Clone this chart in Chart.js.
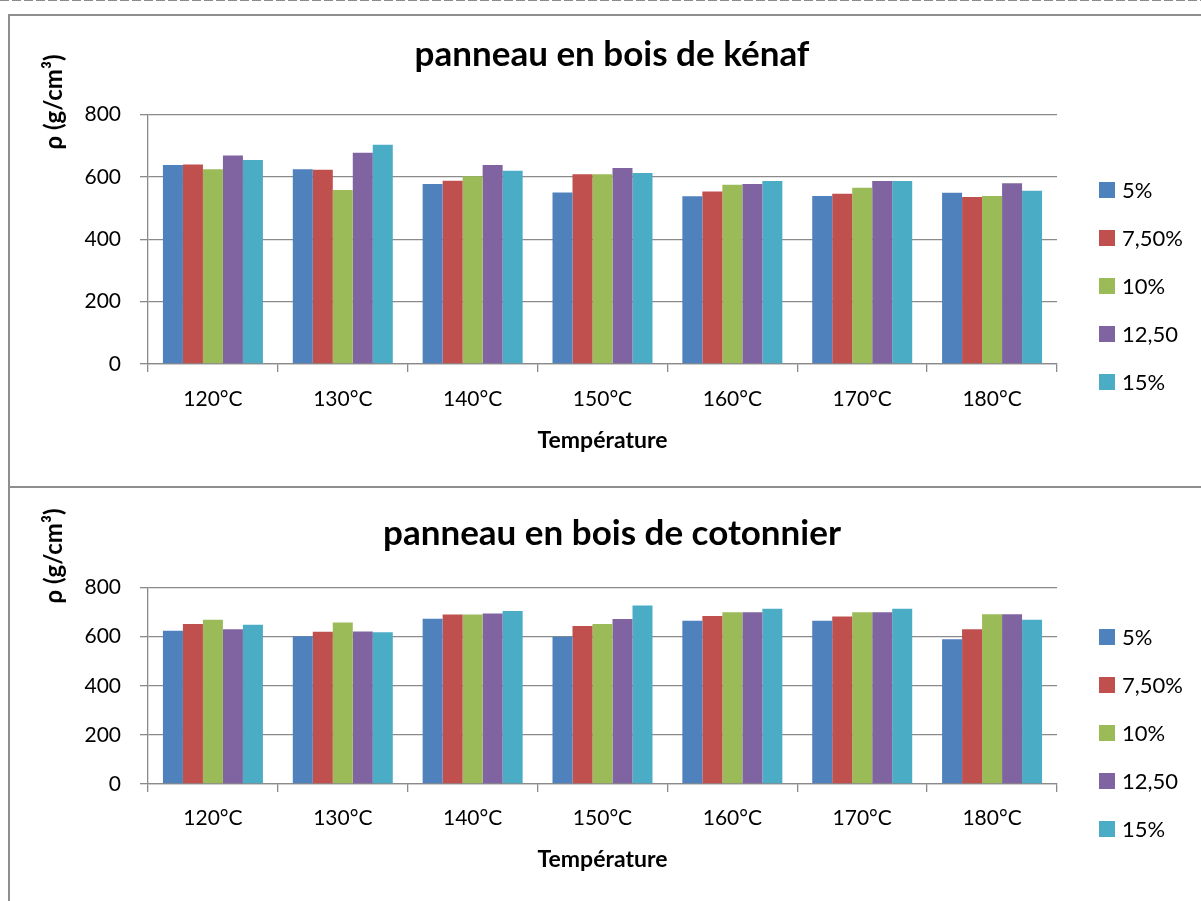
<!DOCTYPE html>
<html lang="fr">
<head>
<meta charset="utf-8">
<title>Masse volumique des panneaux</title>
<script src="https://cdn.jsdelivr.net/npm/chart.js@4.4.1/dist/chart.umd.min.js"></script>
<style>
  html, body { margin: 0; padding: 0; background: #fff; overflow: hidden; }
  body { width: 1201px; height: 901px; position: relative; }
  .dash { position: absolute; left: 0; top: 0; width: 1201px; height: 1px;
          background: repeating-linear-gradient(to right, #8c8c8c 0 9px, transparent 9px 12px); }
  .frame { position: absolute; left: 8px; top: 14px; width: 1220px; height: 920px;
           border: 2px solid #8e8e8e; box-sizing: border-box; }
  .sep { position: absolute; left: 8px; top: 486px; width: 1220px; height: 2px; background: #8e8e8e; }
  .panel { position: absolute; left: 10px; width: 1204px; }
  #panel-kenaf { top: 16px; height: 470px; }
  #panel-coton { top: 488px; height: 413px; }
</style>
</head>
<body>
<div class="dash"></div>
<div class="frame"></div>
<div class="sep"></div>
<div class="panel" id="panel-kenaf"><canvas id="chart-kenaf"></canvas></div>
<div class="panel" id="panel-coton"><canvas id="chart-coton"></canvas></div>
<script>
// --- data ---
const temperatures = ['120°C', '130°C', '140°C', '150°C', '160°C', '170°C', '180°C'];
const seriesLabels = ['5%', '7,50%', '10%', '12,50', '15%'];
const seriesColors = ['#4F81BD', '#C0504D', '#9BBB59', '#8064A2', '#4BACC6'];
const yTicks = [0, 200, 400, 600, 800];

// kénaf, density per temperature
const kenaf5   = [638, 625, 577, 550, 538, 539, 549];
const kenaf75  = [640, 623, 588, 609, 553, 546, 536];
const kenaf10  = [625, 558, 602, 609, 575, 565, 539];
const kenaf125 = [669, 678, 638, 629, 577, 587, 580];
const kenaf15  = [654, 703, 620, 613, 587, 587, 556];

// cotonnier, density per temperature
const coton5   = [624, 602, 673, 600, 665, 665, 590];
const coton75  = [652, 620, 690, 644, 684, 682, 630];
const coton10  = [669, 658, 690, 652, 700, 700, 691];
const coton125 = [630, 621, 694, 672, 700, 700, 691];
const coton15  = [649, 618, 705, 727, 714, 714, 669];

const AXIS = '#8a8a8a';
const FONT = 'Lato';

// rotated y title + legend column on the right
const panelLabels = {
    id: 'panelLabels',
    afterDraw(chart, args, opts) {
        const ctx = chart.ctx;
        ctx.save();
        ctx.fillStyle = '#000';
        ctx.font = `bold 24px ${FONT}`;
        ctx.textAlign = 'center';
        ctx.textBaseline = 'middle';
        ctx.translate(opts.axisX, opts.axisY);
        ctx.rotate(-Math.PI / 2);
        ctx.fillText(opts.axisText, 0, 0);
        ctx.restore();

        ctx.save();
        ctx.font = `22px ${FONT}`;
        ctx.textAlign = 'left';
        ctx.textBaseline = 'middle';
        chart.data.datasets.forEach((ds, i) => {
            const cy = opts.legendY + i * opts.legendStep;
            ctx.fillStyle = ds.backgroundColor;
            ctx.fillRect(opts.legendX, cy - 8, 16, 16);
            ctx.fillStyle = '#000';
            ctx.fillText(ds.label, opts.legendX + 23, cy + 1);
        });
        ctx.restore();
    }
};

const makeChart = (canvasId, titleText, series, lay) => {
    return new Chart(document.getElementById(canvasId), {
        type: 'bar',
        data: {
            labels: temperatures,
            datasets: series.map((values, i) => ({
                label: seriesLabels[i],
                data: values,
                backgroundColor: seriesColors[i],
                borderWidth: 0,
                categoryPercentage: 0.77,
                barPercentage: 1.0
            }))
        },
        plugins: [panelLabels],
        options: {
            responsive: true, maintainAspectRatio: false, animation: false,
            layout: { padding: 0 },
            plugins: {
                legend: { display: false },
                tooltip: { enabled: false },
                title: {
                    display: true, text: titleText, color: '#000',
                    font: { family: FONT, size: 35, weight: 'bold' },
                    padding: { top: lay.titleTop, bottom: lay.titleBottom }
                },
                panelLabels: {
                    axisText: 'ρ (g/cm³)', axisX: 44, axisY: lay.axisY,
                    legendX: 1089, legendY: lay.legendY, legendStep: 48
                }
            },
            scales: {
                x: {
                    grid: { drawOnChartArea: false, offset: true, tickLength: 8, color: AXIS, lineWidth: 1.3 },
                    border: { color: AXIS, width: 1.3 },
                    ticks: { color: '#000', font: { family: FONT, size: 21 }, padding: lay.xTickPad, maxRotation: 0 },
                    title: {
                        display: true, text: 'Température', color: '#000',
                        font: { family: FONT, size: 23, weight: 'bold' },
                        padding: { top: 0, bottom: lay.xTitlePad }
                    },
                    afterFit: (scale) => { scale.height = lay.xHeight; }
                },
                y: {
                    min: 0, max: 800,
                    afterBuildTicks: (scale) => { scale.ticks = yTicks.map(v => ({ value: v })); },
                    grid: { color: AXIS, lineWidth: 1.3, tickLength: 8 },
                    border: { color: AXIS, width: 1.3 },
                    ticks: { color: '#000', font: { family: FONT, size: 21 }, padding: 19 },
                    afterFit: (scale) => { scale.width = 138; }
                },
                // empty right-hand strip reserved for the legend column
                legendSpace: {
                    type: 'linear', position: 'right',
                    grid: { drawOnChartArea: false, drawTicks: false },
                    border: { display: false },
                    ticks: { display: false },
                    afterFit: (scale) => { scale.width = 157; }
                }
            }
        }
    });
};

const build = () => {
    makeChart('chart-kenaf', 'panneau en bois de kénaf',
        [kenaf5, kenaf75, kenaf10, kenaf125, kenaf15],
        { titleTop: 17.6, titleBottom: 39, xHeight: 122, xTickPad: 14.4, xTitlePad: 32, axisY: 86, legendY: 174 });
    makeChart('chart-coton', 'panneau en bois de cotonnier',
        [coton5, coton75, coton10, coton125, coton15],
        { titleTop: 24.6, titleBottom: 33, xHeight: 117, xTickPad: 13.4, xTitlePad: 27.2, axisY: 68, legendY: 149 });
};

Promise.all([
    document.fonts.load(`bold 35px ${FONT}`),
    document.fonts.load(`22px ${FONT}`)
]).then(build, build);
</script>
</body>
</html>
